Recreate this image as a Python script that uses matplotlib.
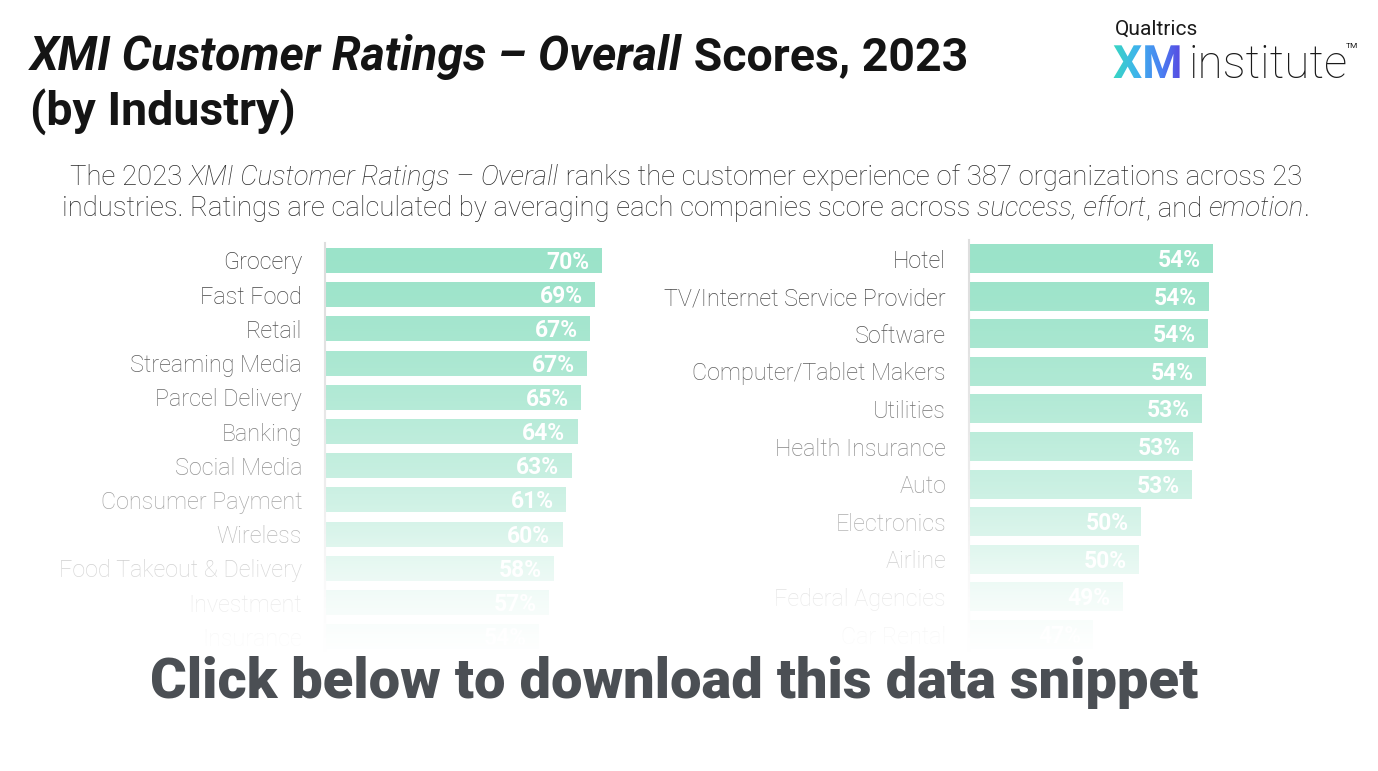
import numpy as np
import matplotlib
matplotlib.use("Agg")
import matplotlib.pyplot as plt
from matplotlib.textpath import TextPath
from matplotlib.font_manager import FontProperties
from matplotlib.patches import PathPatch
from matplotlib.transforms import Affine2D
from matplotlib.colors import LinearSegmentedColormap

# ---------------- data ----------------
left_categories = ["Grocery", "Fast Food", "Retail", "Streaming Media", "Parcel Delivery",
                   "Banking", "Social Media", "Consumer Payment", "Wireless",
                   "Food Takeout & Delivery", "Investment", "Insurance"]
left_values = [70.2, 68.6, 67.2, 66.6, 65.0, 64.1, 62.6, 61.2, 60.3, 58.2, 56.9, 54.4]

right_categories = ["Hotel", "TV/Internet Service Provider", "Software", "Computer/Tablet Makers",
                    "Utilities", "Health Insurance", "Auto", "Electronics", "Airline",
                    "Federal Agencies", "Car Rental"]
right_values = [54.12, 53.87, 53.82, 53.68, 53.45, 52.93, 52.87, 49.92, 49.81, 48.88, 47.18]

# ---------------- figure ----------------
W, H = 1378, 771
fig = plt.figure(figsize=(W / 100, H / 100), dpi=100)
fig.patch.set_facecolor("white")

FONT = "Roboto"
BAR = "#9be3c9"
LABEL = "#3f3f3f"

# canvas axes in image pixel coords
cv = fig.add_axes([0, 0, 1, 1], zorder=0)
cv.set_xlim(0, W)
cv.set_ylim(H, 0)
cv.axis("off")

renderer = fig.canvas.get_renderer()


def seg_width(text, **kw):
    t = cv.text(0, 0, "|" + text + "|", **kw)
    w1 = t.get_window_extent(renderer).width
    t.remove()
    t = cv.text(0, 0, "||", **kw)
    w0 = t.get_window_extent(renderer).width
    t.remove()
    return w1 - w0


def draw_segments(segs, x, y, align="left", zorder=3):
    widths = [seg_width(s, **st) for s, st in segs]
    total = sum(widths)
    if align == "center":
        x = x - total / 2
    for (s, st), w in zip(segs, widths):
        cv.text(x, y, s, va="baseline", ha="left", zorder=zorder, **st)
        x += w


# ---------------- title ----------------
tcol = "#141414"
tsz = 33.5
bi = dict(family=FONT, weight="bold", style="italic", size=tsz, color=tcol)
bn = dict(family=FONT, weight="bold", size=tsz, color=tcol)
draw_segments([("XMI Customer Ratings – Overall", bi), (" Scores, 2023", bn)], 30, 70)
draw_segments([("(by Industry)", bn)], 30, 125)

# ---------------- subtitle ----------------
ssz = 19.8
sl = dict(family=FONT, weight="light", size=ssz, color="#2b2b2b")
si = dict(family=FONT, weight="light", style="italic", size=ssz, color="#2b2b2b")
draw_segments([("The 2023 ", sl), ("XMI Customer Ratings", si), (" – ", sl), ("Overall", si),
               (" ranks the customer experience of 387 organizations across 23", sl)],
              686, 185, align="center")
draw_segments([("industries. Ratings are calculated by averaging each companies score across ", sl),
               ("success, effort", si), (", and ", sl), ("emotion", si), (".", sl)],
              686, 216, align="center")

# ---------------- logo ----------------
cv.text(1115, 35, "Qualtrics", family=FONT, size=15, color="#1a1a1a", va="baseline", ha="left")
fp = FontProperties(family=FONT, weight="bold")
tp = TextPath((0, 0), "XM", size=46, prop=fp)
tr = Affine2D().scale(1, -1).translate(1113, 78) + cv.transData
patch = PathPatch(tp, transform=tr, facecolor="none", edgecolor="none")
cv.add_patch(patch)
grad = np.linspace(0, 1, 256).reshape(1, -1)
cmap = LinearSegmentedColormap.from_list("xm", ["#38d8c0", "#3fb4ec", "#4a80f2", "#5b3cdc"])
im = cv.imshow(grad, cmap=cmap, extent=(1112, 1186, 82, 40), aspect="auto", zorder=2)
im.set_clip_path(patch)
cv.text(1189, 78, "institute", family=FONT, weight="light", size=33, color="#1a1a1a",
        va="baseline", ha="left")
cv.text(1346, 48, "TM", family=FONT, size=6, color="#1a1a1a", va="baseline", ha="left")
cv.set_xlim(0, W)
cv.set_ylim(H, 0)


# ---------------- bar charts ----------------
def make_axes(x0, xmin, xmax, k, row0, pitch, top, bottom):
    width = (xmax - xmin) * k
    ax = fig.add_axes([x0 / W, 1 - bottom / H, width / W, (bottom - top) / H], zorder=1)
    ax.set_xlim(xmin, xmax)
    ax.set_ylim((bottom - row0) / pitch, (top - row0) / pitch)
    ax.patch.set_alpha(0)
    for s in ["top", "right", "bottom"]:
        ax.spines[s].set_visible(False)
    ax.spines["left"].set_color("#dedede")
    ax.spines["left"].set_linewidth(1.5)
    ax.xaxis.set_visible(False)
    return ax


def draw_bars(ax, cats, vals, xmin, height):
    y = np.arange(len(cats))
    ax.barh(y, [v - xmin for v in vals], left=xmin, height=height, color=BAR, zorder=2)
    ax.set_yticks(y)
    ax.set_yticklabels(cats, family=FONT, weight="light", size=16.8, color=LABEL)
    ax.tick_params(axis="y", length=0, pad=16.5)
    for yi, v in zip(y, vals):
        ax.annotate(f"{v:.0f}%", xy=(v, yi), xytext=(-8.8, -1.5), textcoords="offset points",
                    ha="right", va="center", family=FONT, weight="bold", size=16.5,
                    color="white", zorder=3)


axL = make_axes(325, 0, 80, 3.94, 260.5, 34.2, 243, 650)
draw_bars(axL, left_categories, left_values, 0, 0.73)

axR = make_axes(969, 40, 56, 17.3, 258.5, 37.6, 240, 650)
draw_bars(axR, right_categories, right_values, 40, 0.77)

# ---------------- fade overlay ----------------
fd = fig.add_axes([0, 0, 1, 1], zorder=5)
fd.set_xlim(0, W)
fd.set_ylim(H, 0)
fd.axis("off")
fd.patch.set_alpha(0)
ys = np.arange(240, H + 1)
fy = [250, 295, 329, 363, 397, 432, 466, 500, 534, 568, 602, 640, 655]
fa = [0.0, 0.05, 0.11, 0.17, 0.24, 0.33, 0.42, 0.52, 0.64, 0.78, 0.90, 0.98, 1.0]
alpha = np.interp(ys, fy, fa)
rgba = np.ones((len(ys), 2, 4))
rgba[:, :, 3] = alpha[:, None]
fd.imshow(rgba, extent=(0, W, H, 240), aspect="auto", interpolation="bilinear")
fd.set_xlim(0, W)
fd.set_ylim(H, 0)

fig.text(674 / W, 1 - 698 / H, "Click below to download this data snippet", ha="center",
         va="baseline", family=FONT, weight="black", size=40.3, color="#4b4f54", zorder=10)

fig.savefig("out.png", dpi=100, facecolor="white")
